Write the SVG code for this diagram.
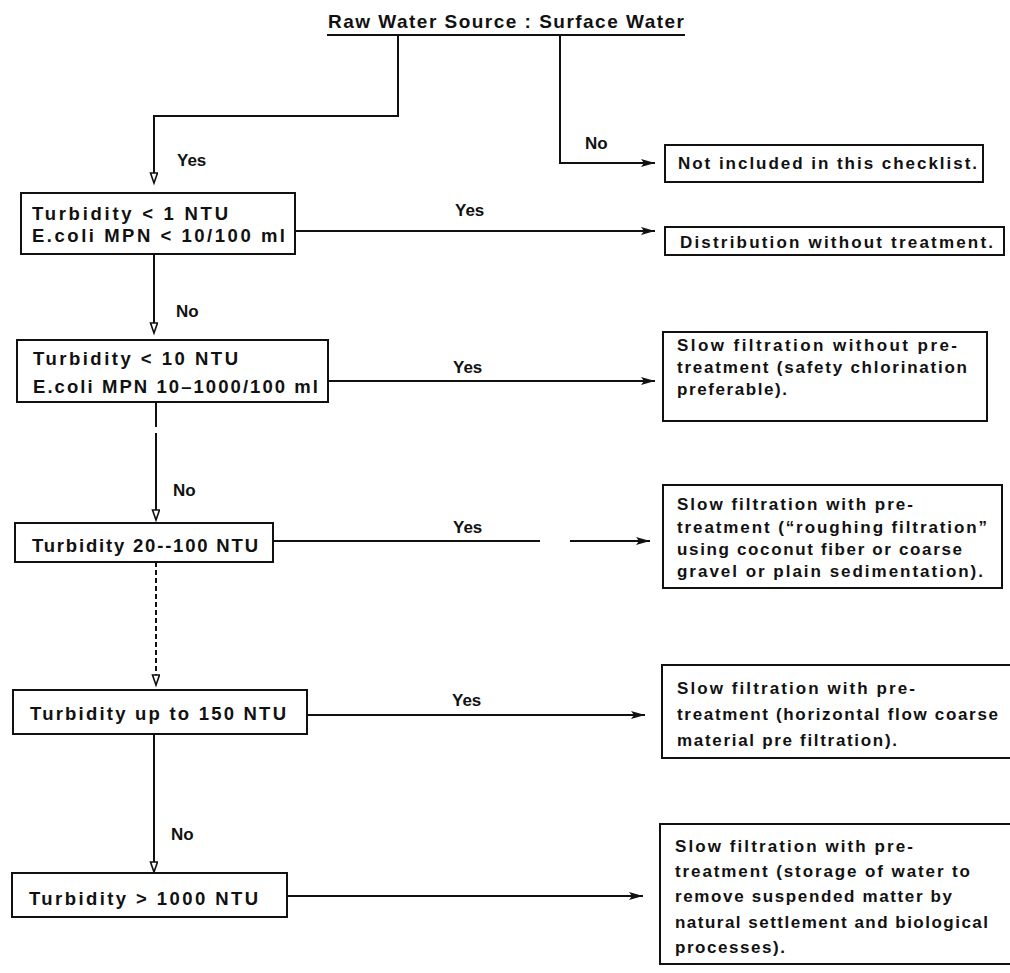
<svg xmlns="http://www.w3.org/2000/svg" width="1010" height="973" viewBox="0 0 1010 973">
<style>
text{font-family:"Liberation Sans",Arial,sans-serif;font-weight:bold;fill:#111}
.t{font-size:19px}
.l{font-size:18.5px}
.r{font-size:17px}
.lab{font-size:17px}
.box{fill:#fff;stroke:#111;stroke-width:2}
.c{fill:none;stroke:#111;stroke-width:2}
.d{fill:none;stroke:#111;stroke-width:2;stroke-dasharray:5 3}
</style>
<defs>
<marker id="ah" markerUnits="userSpaceOnUse" markerWidth="16" markerHeight="10" refX="14" refY="4.5" orient="auto">
<path d="M0,0.5 L14,4.5 L0,8.5 L3,4.5 z" fill="#111"/>
</marker>
<marker id="ao" markerUnits="userSpaceOnUse" markerWidth="14" markerHeight="10" refX="11" refY="4" orient="auto">
<path d="M1,0.5 L11,4 L1,7.5 z" fill="#fff" stroke="#111" stroke-width="1.6"/>
</marker>
</defs>
<rect width="1010" height="973" fill="#fff"/>

<g id="title">
<text x="328" y="28" class="t" textLength="356" lengthAdjust="spacing">Raw Water Source  :  Surface Water</text>
<line x1="327" y1="35" x2="685" y2="35" stroke="#111" stroke-width="2"/>
</g>

<g id="connectors">
<path class="c" d="M398,35 V116 H154 V183" marker-end="url(#ao)"/>
<path class="c" d="M560,35 V163 H655" marker-end="url(#ah)"/>
<path class="c" d="M154,254 V333" marker-end="url(#ao)"/>
<path class="c" d="M295,231 H655" marker-end="url(#ah)"/>
<path class="c" d="M156,402 V427 M156,433 V520" marker-end="url(#ao)"/>
<path class="c" d="M328,381 H655" marker-end="url(#ah)"/>
<path class="c" d="M273,541 H540"/>
<path class="c" d="M570,541 H650" marker-end="url(#ah)"/>
<path class="d" d="M156,562 V685" marker-end="url(#ao)"/>
<path class="c" d="M307,715 H645" marker-end="url(#ah)"/>
<path class="c" d="M154,734 V872" marker-end="url(#ao)"/>
<path class="c" d="M287,896 H643" marker-end="url(#ah)"/>
<text x="177" y="166" class="lab">Yes</text>
<text x="585" y="149" class="lab">No</text>
<text x="455" y="216" class="lab">Yes</text>
<text x="176" y="317" class="lab">No</text>
<text x="453" y="373" class="lab">Yes</text>
<text x="173" y="496" class="lab">No</text>
<text x="453" y="533" class="lab">Yes</text>
<text x="452" y="706" class="lab">Yes</text>
<text x="171" y="840" class="lab">No</text>
</g>

<g id="q1">
<rect class="box" x="21" y="193" width="274" height="61"/>
<text x="32" y="220" class="l" textLength="196" lengthAdjust="spacing">Turbidity &lt; 1 NTU</text>
<text x="32" y="242" class="l" textLength="253" lengthAdjust="spacing">E.coli MPN &lt; 10/100 ml</text>
</g>
<g id="q2">
<rect class="box" x="17" y="340" width="311" height="62"/>
<text x="33" y="365" class="l" textLength="205" lengthAdjust="spacing">Turbidity &lt; 10 NTU</text>
<text x="33" y="393" class="l" textLength="285" lengthAdjust="spacing">E.coli MPN 10–1000/100 ml</text>
</g>
<g id="q3">
<rect class="box" x="15" y="523" width="258" height="39"/>
<text x="32" y="552" class="l" textLength="226" lengthAdjust="spacing">Turbidity 20--100 NTU</text>
</g>
<g id="q4">
<rect class="box" x="13" y="690" width="294" height="44"/>
<text x="30" y="720" class="l" textLength="256" lengthAdjust="spacing">Turbidity up to 150 NTU</text>
</g>
<g id="q5">
<rect class="box" x="12" y="873" width="275" height="44"/>
<text x="29" y="905" class="l" textLength="229" lengthAdjust="spacing">Turbidity &gt; 1000 NTU</text>
</g>

<g id="r1">
<rect class="box" x="665" y="145" width="318" height="37"/>
<text x="678" y="169" class="r" textLength="299" lengthAdjust="spacing">Not included in this checklist.</text>
</g>
<g id="r2">
<rect class="box" x="665" y="227" width="339" height="28"/>
<text x="680" y="248" class="r" textLength="313" lengthAdjust="spacing">Distribution without treatment.</text>
</g>
<g id="r3">
<rect class="box" x="663" y="332" width="324" height="89"/>
<text x="677" y="351" class="r" textLength="280" lengthAdjust="spacing">Slow filtration without pre-</text>
<text x="677" y="373" class="r" textLength="290" lengthAdjust="spacing">treatment (safety chlorination</text>
<text x="677" y="395" class="r" textLength="110" lengthAdjust="spacing">preferable).</text>
</g>
<g id="r4">
<rect class="box" x="663" y="485" width="339" height="103"/>
<text x="677" y="510" class="r" textLength="236" lengthAdjust="spacing">Slow filtration with pre-</text>
<text x="677" y="533" class="r" textLength="310" lengthAdjust="spacing">treatment (“roughing filtration”</text>
<text x="677" y="555" class="r" textLength="285" lengthAdjust="spacing">using coconut fiber or coarse</text>
<text x="677" y="577" class="r" textLength="306" lengthAdjust="spacing">gravel or plain sedimentation).</text>
</g>
<g id="r5">
<rect class="box" x="662" y="665" width="360" height="93"/>
<text x="677" y="694" class="r" textLength="238" lengthAdjust="spacing">Slow filtration with pre-</text>
<text x="677" y="720" class="r" textLength="321" lengthAdjust="spacing">treatment (horizontal flow coarse</text>
<text x="677" y="746" class="r" textLength="220" lengthAdjust="spacing">material pre filtration).</text>
</g>
<g id="r6">
<rect class="box" x="660" y="824" width="362" height="140"/>
<text x="675" y="852" class="r" textLength="238" lengthAdjust="spacing">Slow filtration with pre-</text>
<text x="675" y="877" class="r" textLength="295" lengthAdjust="spacing">treatment (storage of water to</text>
<text x="675" y="902" class="r" textLength="277" lengthAdjust="spacing">remove suspended matter by</text>
<text x="675" y="928" class="r" textLength="313" lengthAdjust="spacing">natural settlement and biological</text>
<text x="675" y="953" class="r" textLength="110" lengthAdjust="spacing">processes).</text>
</g>
</svg>
